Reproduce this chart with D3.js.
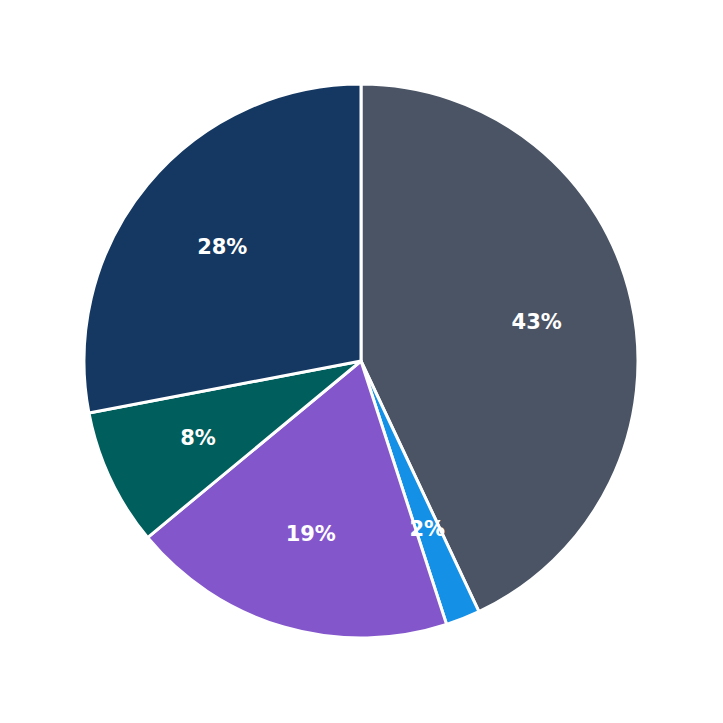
<!DOCTYPE html>
<html>
<head>
<meta charset="utf-8">
<script src="https://cdn.jsdelivr.net/npm/d3@7"></script>
<style>
  body { margin: 0; background: #fff; }
</style>
</head>
<body>
<svg id="chart" width="723" height="723"></svg>
<script>
var categories = ['A', 'B', 'C', 'D', 'E'];
var values = [43, 2, 19, 8, 28];
var colors = ['#4a5464', '#1490e6', '#8456cc', '#005e5c', '#143862'];

var cx = 361, cy = 361, radius = 277;

var svg = d3.select('#chart');
var g = svg.append('g').attr('transform', 'translate(' + cx + ',' + cy + ')');

var data = categories.map(function(c, i) { return { name: c, value: values[i], color: colors[i] }; });

var pie = d3.pie().sort(null).value(function(d) { return d.value; });
var arc = d3.arc().innerRadius(0).outerRadius(radius);
var labelArc = d3.arc().innerRadius(radius * 0.65).outerRadius(radius * 0.65);

var arcs = pie(data);

g.selectAll('path')
  .data(arcs)
  .enter().append('path')
  .attr('d', arc)
  .attr('fill', function(d) { return d.data.color; })
  .attr('stroke', '#fff')
  .attr('stroke-width', 3)
  .attr('stroke-linejoin', 'round');

g.selectAll('text')
  .data(arcs)
  .enter().append('text')
  .attr('transform', function(d) { return 'translate(' + labelArc.centroid(d) + ')'; })
  .attr('text-anchor', 'middle')
  .attr('dy', '0.35em')
  .attr('fill', '#fff')
  .style('font-family', 'DejaVu Sans, sans-serif')
  .style('font-weight', 'bold')
  .style('font-size', '21px')
  .text(function(d) { return d.data.value + '%'; });
</script>
</body>
</html>
